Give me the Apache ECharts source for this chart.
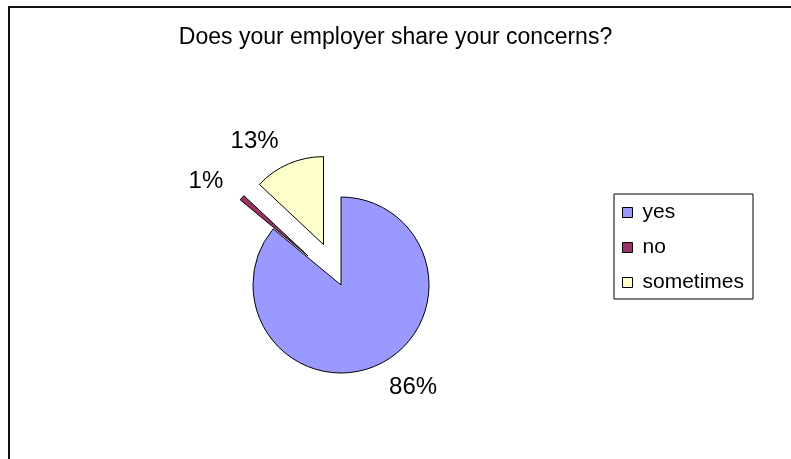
<!DOCTYPE html>
<html>
<head>
<meta charset="utf-8">
<script src="https://cdn.jsdelivr.net/npm/echarts@6/dist/echarts.min.js"></script>
<style>
  html, body { margin: 0; padding: 0; background: #fff; }
  #chart { width: 791px; height: 459px; }
</style>
</head>
<body>
<div id="chart"></div>
<script>
// Survey answers and their shares (percent)
const categories = ['yes', 'no', 'sometimes'];
const shares = [86, 1, 13];
const colors = ['#9999FF', '#993366', '#FFFFCC'];
// answers pulled out of the pie
const explodedAnswers = ['no', 'sometimes'];
const titleText = 'Does your employer share your concerns?';

const FONT = '"Liberation Sans", Arial, sans-serif';

const chart = echarts.init(document.getElementById('chart'), null, { renderer: 'canvas' });

const pieData = categories.map((name, i) => ({
  name: name,
  value: shares[i],
  selected: explodedAnswers.includes(name),
  itemStyle: { color: colors[i] }
}));

chart.setOption({
  animation: false,
  backgroundColor: '#fff',
  graphic: [{
    type: 'rect',
    shape: { x: 9, y: 7, width: 900, height: 600 },
    style: { fill: 'none', stroke: '#111', lineWidth: 2 },
    silent: true
  }],
  title: {
    text: titleText,
    left: 'center',
    top: 26,
    padding: 0,
    textStyle: { fontFamily: FONT, fontSize: 23, fontWeight: 'normal', color: '#000', lineHeight: 23 }
  },
  legend: {
    orient: 'vertical',
    left: 614,
    top: 194,
    padding: [8, 9, 6, 8],
    itemGap: 14,
    itemWidth: 10,
    itemHeight: 10,
    icon: 'rect',
    borderColor: '#000',
    borderWidth: 1,
    selectedMode: false,
    itemStyle: { borderColor: '#000', borderWidth: 1 },
    textStyle: { fontFamily: FONT, fontSize: 21, lineHeight: 21, color: '#000', padding: [0, 0, 0, 5] },
    data: categories
  },
  series: [{
    type: 'pie',
    center: [341, 285],
    radius: 88,
    startAngle: 90,
    clockwise: true,
    selectedMode: 'multiple',
    selectedOffset: 44,
    avoidLabelOverlap: false,
    emphasis: { disabled: true },
    itemStyle: { borderColor: '#000', borderWidth: 1 },
    label: {
      show: true,
      position: 'outside',
      formatter: '{c}%',
      fontFamily: FONT,
      fontSize: 24,
      color: '#000',
      distanceToLabelLine: 0
    },
    labelLine: { show: false, length: 25, length2: 0 },
    data: pieData
  }]
});
</script>
</body>
</html>
